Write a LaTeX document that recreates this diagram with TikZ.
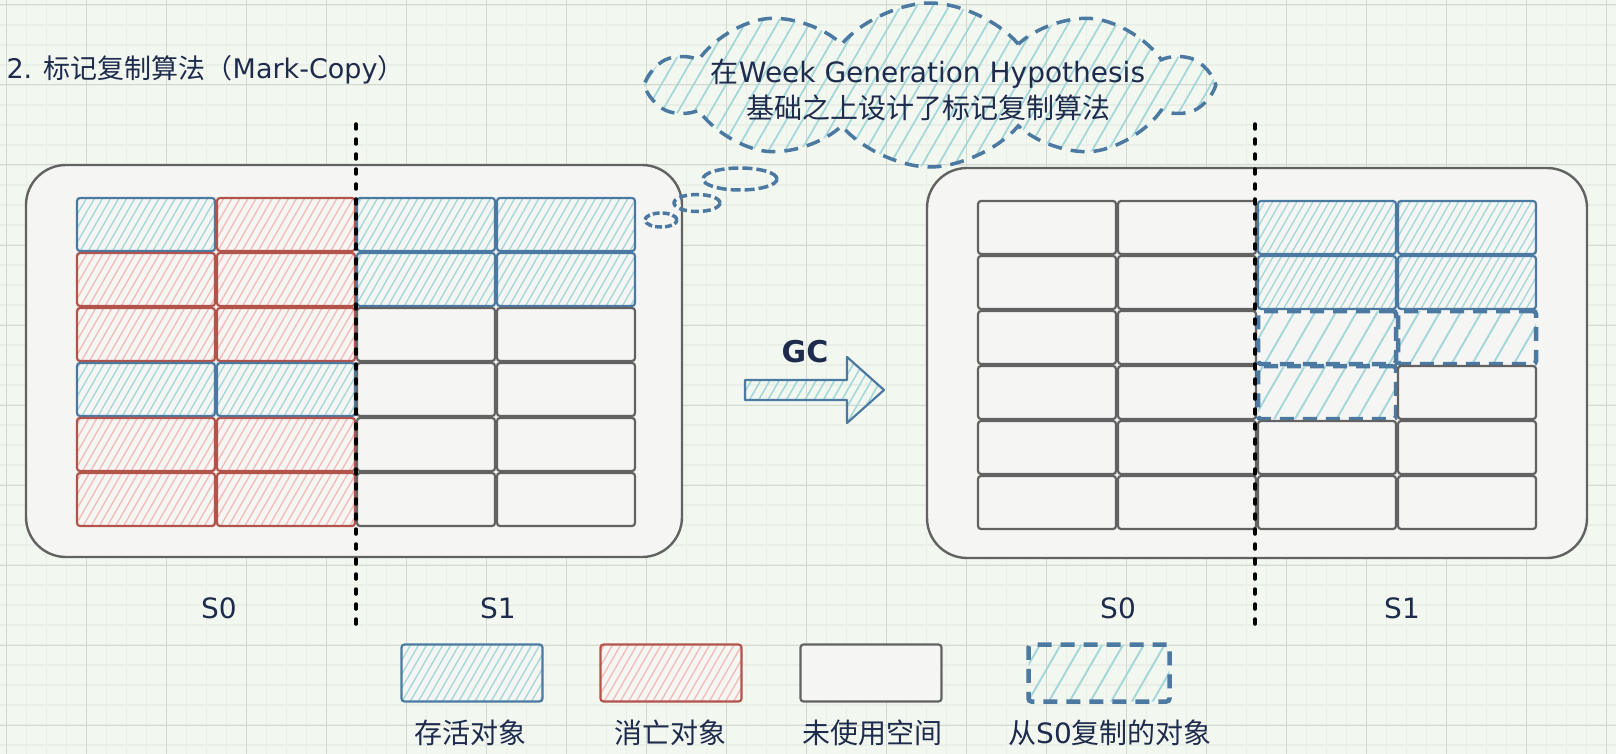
\documentclass[tikz,border=0pt]{standalone}
\usepackage{fontspec}
\setmainfont{DejaVu Sans}
\newfontfamily\cjk{Noto Sans CJK SC}
\usetikzlibrary{patterns.meta,shapes.symbols,shapes.geometric}

\definecolor{paper}{HTML}{F2F8EF}
\definecolor{gridminor}{HTML}{E9EFE6}
\definecolor{gridmajor}{HTML}{D3D8D1}
\definecolor{boxfill}{HTML}{F5F6F3}
\definecolor{ink}{HTML}{1E2B4D}
\definecolor{liveline}{HTML}{4B79A1}
\definecolor{livehatch}{HTML}{A6D7DB}
\definecolor{deadline}{HTML}{B2534C}
\definecolor{deadhatch}{HTML}{F2BCBA}
\definecolor{freeline}{HTML}{626262}

\begin{document}
\begin{tikzpicture}[x=1pt,y=-1pt,
  txt/.style={text=ink,font=\fontsize{28}{36}\selectfont},
  heap/.style={draw=freeline,line width=2.4,rounded corners=40pt,fill=boxfill,inner sep=0},
  cell/.style={rounded corners=3pt,line width=2.2,minimum width=138,minimum height=53,inner sep=0},
  hatch/.style={pattern={Lines[angle=60,distance=7pt,line width=1.4pt]}},
  live/.style={cell,draw=liveline,preaction={fill=boxfill},hatch,pattern color=livehatch},
  dead/.style={cell,draw=deadline,preaction={fill=boxfill},hatch,pattern color=deadhatch},
  free/.style={cell,draw=freeline,fill=boxfill},
  copied/.style={cell,pattern={Lines[angle=60,distance=18pt,line width=2pt]},pattern color=livehatch,
    postaction={draw=liveline,line width=4.5,dash pattern=on 14pt off 9pt}},
  cut/.style={line width=3.5,line cap=round,dash pattern=on 5pt off 10pt},
  thought/.style={cloud,cloud ignores aspect,inner sep=0,
    postaction={draw=liveline,line width=3.5,dash pattern=on 14pt off 9pt}},
  bubble/.style={ellipse,inner sep=0,draw=liveline,line width=3.5,
    dash pattern=on 10pt off 4pt},
  gcarrow/.style={draw=liveline,line width=2.2,line join=round,
    pattern={Lines[angle=60,distance=8pt,line width=1.6pt]},pattern color=livehatch}]
  \useasboundingbox (0,0) rectangle (1616,754);
  \fill[paper] (0,0) rectangle (1616,754);
  % paper grid
  \begin{scope}
    \clip (0,0) rectangle (1616,754);
    \begin{scope}[shift={(6.67,5)}]
      \draw[gridminor,line width=1.6,step=20pt] (-20,-20) grid (1620,760);
      \draw[gridmajor,line width=1,step=80pt] (-80,-80) grid (1620,760);
    \end{scope}
  \end{scope}
  \node[txt,anchor=west,font=\fontsize{27}{30}\selectfont] (title) at (3,70) {2. {\cjk 标记复制算法（}Mark-Copy{\cjk ）}};
  % before GC
  \node[heap,minimum width=656,minimum height=392] (heapA) at (354,361) {};
  \foreach \r/\kinds in {0/{live,dead,live,live},1/{dead,dead,live,live},
      2/{dead,dead,free,free},3/{live,live,free,free},
      4/{dead,dead,free,free},5/{dead,dead,free,free}}
    \foreach \k [count=\c from 0] in \kinds
      \node[\k] (a\r\c) at ({146+140*\c},{224.5+55*\r}) {};
  \coordinate (cutA-top) at (356,124);
  \coordinate (cutA-bot) at (356,629);
  \draw[cut] (cutA-top) -- (cutA-bot);
  \node[txt] (s0a) at (219,608) {S0};
  \node[txt] (s1a) at (498,608) {S1};
  % after GC
  \node[heap,minimum width=660,minimum height=390] (heapB) at (1257,363) {};
  \foreach \r/\kinds in {0/{free,free,live,live},1/{free,free,live,live},
      2/{free,free,copied,copied},3/{free,free,copied,free},
      4/{free,free,free,free},5/{free,free,free,free}}
    \foreach \k [count=\c from 0] in \kinds
      \node[\k] (b\r\c) at ({1047+140*\c},{227.5+55*\r}) {};
  \coordinate (cutB-top) at (1255,124);
  \coordinate (cutB-bot) at (1255,629);
  \draw[cut] (cutB-top) -- (cutB-bot);
  \node[txt] (s0b) at (1118,608) {S0};
  \node[txt] (s1b) at (1402,608) {S1};
  % GC arrow
  \draw[gcarrow] (745,380) -- (847,380) -- (847,357) -- (884,390)
    -- (847,423) -- (847,400) -- (745,400) -- cycle;
  \node[txt,font=\bfseries\fontsize{30}{36}\selectfont] (gc) at (805,352) {GC};
  % thought cloud
  \node[thought,cloud puffs=10,cloud puff arc=100,minimum width=556,minimum height=164,
    pattern={Lines[angle=60,distance=14pt,line width=1.8pt]},pattern color=livehatch] (idea) at (930,85) {};
  \node[txt,align=center] (idea-text) at (928,90) {{\cjk 在}Week Generation Hypothesis\\{\cjk 基础之上设计了标记复制算法}};
  \node[bubble,minimum width=74,minimum height=22] (bub1) at (740,179) {};
  \node[bubble,minimum width=46,minimum height=17,dash pattern=on 8pt off 4pt] (bub2) at (697,203) {};
  \node[bubble,minimum width=32,minimum height=14,dash pattern=on 7pt off 3pt] (bub3) at (661,220) {};
  % legend
  \node[live,minimum width=141,minimum height=57] (key-live) at (472,673) {};
  \node[dead,minimum width=141,minimum height=57] (key-dead) at (671,673) {};
  \node[free,minimum width=141,minimum height=57] (key-free) at (871,673) {};
  \node[copied,minimum width=141,minimum height=57] (key-copied) at (1099,673) {};
  \node[txt,font=\cjk\fontsize{28}{36}\selectfont] (lab-live) at (470,733) {存活对象};
  \node[txt,font=\cjk\fontsize{28}{36}\selectfont] (lab-dead) at (670,733) {消亡对象};
  \node[txt,font=\cjk\fontsize{28}{36}\selectfont] (lab-free) at (872,733) {未使用空间};
  \node[txt] (lab-copied) at (1110,733) {{\cjk 从}S0{\cjk 复制的对象}};
\end{tikzpicture}
\end{document}
